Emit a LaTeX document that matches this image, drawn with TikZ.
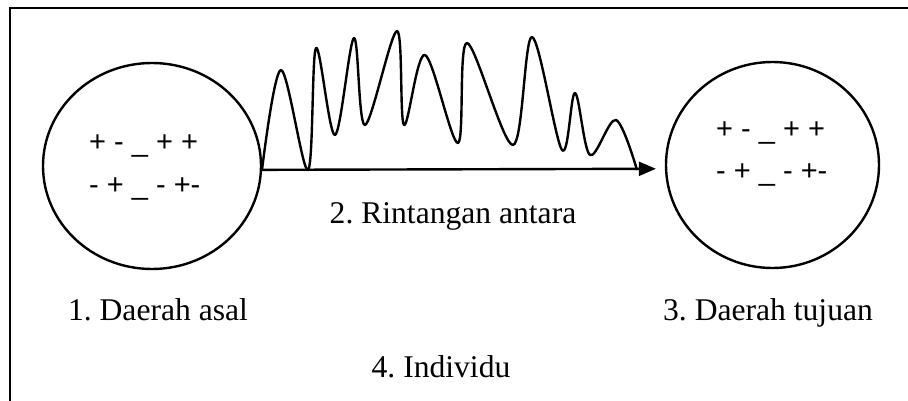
\documentclass[tikz,border=0pt]{standalone}
\usepackage{fontspec}
\setmainfont{Liberation Serif}
\newfontfamily\chargefont{Liberation Sans}
\usetikzlibrary{arrows.meta,shapes.geometric}
\frenchspacing

\begin{document}
\begin{tikzpicture}[x=1pt, y=-1pt,
  region/.style={ellipse, draw, line width=2.4pt, inner sep=0pt},
  charge/.style={anchor=base west, inner sep=0pt, font=\chargefont\fontsize{29}{34}\selectfont},
  caption/.style={anchor=base, inner sep=0pt, font=\fontsize{31.6}{36}\selectfont},
  msg/.style={line width=2.4pt, -{Triangle[length=17pt, width=14pt]}},
  wave/.style={line width=2.4pt, line join=round}
]
  \useasboundingbox (0,0) rectangle (908,401);
  \draw[line width=2.6pt] (10,401) -- (10,8) -- (908,8);

  \node[region, minimum width=218pt, minimum height=206pt] (asal) at (152,166) {};
  \node[region, minimum width=213pt, minimum height=206pt] (tujuan) at (772.5,165) {};

  \node[charge] (asal-a) at (89,152) {+ - \_ + +};
  \node[charge] (asal-b) at (89,194) {- + \_ - +-};
  \node[charge] (tujuan-a) at (716,139) {+ - \_ + +};
  \node[charge] (tujuan-b) at (716,180) {- + \_ - +-};

  \draw[msg, shorten >=9pt] (asal.-2) -- (tujuan.182);
  \draw[wave] plot[smooth, tension=0.55] coordinates {
    (262,170) (281,70) (308,170) (316,48) (335,135) (354,38) (365,125)
    (397,31) (404,125) (425,55) (458,143) (467,43) (513,145) (532,37)
    (562,150) (575,93) (590,155) (616,120) (637,170)};

  \node[caption] (asal-name) at (158,320) {1. Daerah asal};
  \node[caption] (barrier) at (453,223) {2. Rintangan antara};
  \node[caption] (tujuan-name) at (768,320) {3. Daerah tujuan};
  \node[caption] (individu) at (441,377) {4. Individu};
\end{tikzpicture}
\end{document}
